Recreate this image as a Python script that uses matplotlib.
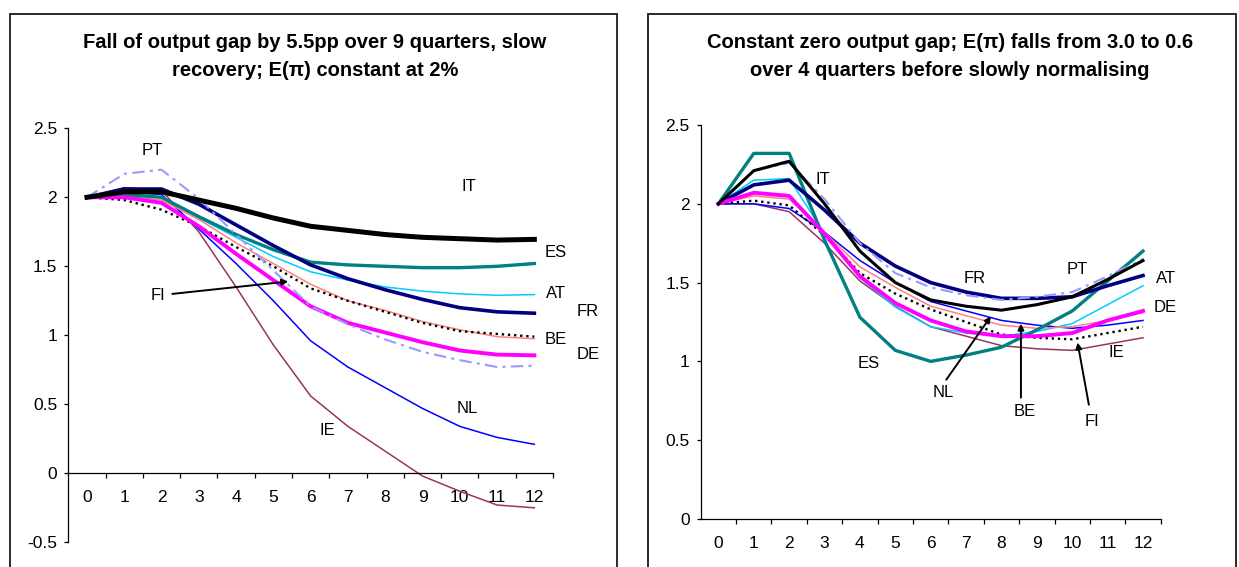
import matplotlib
matplotlib.use("Agg")
import matplotlib.pyplot as plt
from matplotlib.patches import Rectangle
import numpy as np

plt.rcParams['font.family'] = ['Liberation Sans', 'DejaVu Sans']

quarters = list(range(13))
tick_labels = [str(q) for q in quarters]

# Left panel: output gap shock, E(pi) constant
it_gap = [2.00, 2.04, 2.04, 1.98, 1.92, 1.85, 1.79, 1.76, 1.73, 1.71, 1.70, 1.69, 1.695]
es_gap = [2.00, 2.02, 2.00, 1.86, 1.73, 1.62, 1.53, 1.51, 1.50, 1.49, 1.49, 1.50, 1.52]
at_gap = [2.00, 2.02, 2.00, 1.85, 1.71, 1.57, 1.46, 1.40, 1.35, 1.32, 1.30, 1.29, 1.295]
fr_gap = [2.00, 2.06, 2.06, 1.95, 1.80, 1.65, 1.51, 1.41, 1.33, 1.26, 1.20, 1.17, 1.16]
be_gap = [2.00, 2.01, 1.98, 1.84, 1.67, 1.52, 1.37, 1.25, 1.18, 1.10, 1.04, 0.99, 0.975]
fi_gap = [2.00, 1.98, 1.91, 1.79, 1.64, 1.50, 1.34, 1.25, 1.17, 1.09, 1.03, 1.01, 0.99]
de_gap = [2.00, 2.00, 1.96, 1.79, 1.59, 1.40, 1.21, 1.09, 1.02, 0.95, 0.89, 0.86, 0.855]
pt_gap = [2.00, 2.17, 2.20, 1.99, 1.73, 1.47, 1.21, 1.08, 0.97, 0.88, 0.82, 0.77, 0.78]
nl_gap = [2.00, 2.04, 2.02, 1.77, 1.52, 1.25, 0.96, 0.77, 0.62, 0.47, 0.34, 0.26, 0.21]
ie_gap = [2.00, 2.07, 2.05, 1.75, 1.35, 0.93, 0.56, 0.34, 0.16, -0.02, -0.13, -0.23, -0.25]

# Right panel: zero output gap, E(pi) shock
it_exp = [2.00, 2.21, 2.27, 2.00, 1.70, 1.50, 1.39, 1.35, 1.325, 1.36, 1.41, 1.52, 1.64]
es_exp = [2.00, 2.32, 2.32, 1.77, 1.28, 1.07, 1.00, 1.04, 1.09, 1.20, 1.32, 1.51, 1.70]
at_exp = [2.00, 2.15, 2.16, 1.81, 1.53, 1.345, 1.22, 1.18, 1.16, 1.19, 1.24, 1.36, 1.48]
fr_exp = [2.00, 2.12, 2.15, 1.96, 1.75, 1.605, 1.50, 1.44, 1.40, 1.40, 1.41, 1.48, 1.545]
be_exp = [2.00, 2.05, 2.03, 1.82, 1.60, 1.47, 1.35, 1.29, 1.23, 1.21, 1.22, 1.26, 1.31]
fi_exp = [2.00, 2.02, 1.99, 1.80, 1.56, 1.43, 1.33, 1.25, 1.17, 1.15, 1.14, 1.18, 1.22]
de_exp = [2.00, 2.07, 2.05, 1.81, 1.54, 1.37, 1.26, 1.19, 1.16, 1.16, 1.18, 1.26, 1.32]
pt_exp = [2.00, 2.21, 2.26, 2.03, 1.75, 1.56, 1.47, 1.42, 1.39, 1.41, 1.44, 1.54, 1.65]
nl_exp = [2.00, 2.00, 1.97, 1.82, 1.64, 1.50, 1.38, 1.32, 1.26, 1.23, 1.21, 1.23, 1.26]
ie_exp = [2.00, 2.00, 1.95, 1.75, 1.51, 1.35, 1.22, 1.16, 1.10, 1.08, 1.07, 1.11, 1.15]


def style_axes(ax, ymin, ymax):
    ax.set_xlim(-0.5, 12.5)
    ax.set_ylim(ymin, ymax)
    ax.set_yticks(np.arange(ymin, ymax + 0.01, 0.5))
    ax.set_yticklabels([f"{v:g}" for v in np.arange(ymin, ymax + 0.01, 0.5)])
    ax.set_xticks(quarters)
    ax.set_xticklabels(tick_labels)
    ax.set_xticks(np.arange(0.5, 13, 1), minor=True)
    ax.spines['top'].set_visible(False)
    ax.spines['right'].set_visible(False)
    ax.spines['left'].set_linewidth(0.9)
    ax.spines['bottom'].set_linewidth(0.9)
    ax.spines['bottom'].set_position(('data', 0))
    ax.tick_params(axis='x', which='major', length=0, pad=12, labelsize=12.5)
    ax.tick_params(axis='x', which='minor', length=3.5, width=0.9, direction='out')
    ax.tick_params(axis='y', length=3, width=0.9, pad=5, labelsize=12.5)
    ax.patch.set_alpha(0)


def draw_lines(ax, it, es, at, fr, be, fi, de, pt, nl, ie, thick):
    ax.plot(quarters, ie, color='#993366', lw=1.1)
    ax.plot(quarters, nl, color='#0000FF', lw=1.1)
    ax.plot(quarters, at, color='#00CCFF', lw=1.1)
    ax.plot(quarters, be, color='#FF8080', lw=1.1)
    ax.plot(quarters, fi, color='black', lw=1.7, linestyle=(0, (1, 1.6)))
    ax.plot(quarters, es, color='#008080', lw=2.4)
    ax.plot(quarters, fr, color='#000080', lw=2.6)
    ax.plot(quarters, de, color='#FF00FF', lw=2.8)
    ax.plot(quarters, pt, color='#9999FF', lw=1.5, linestyle=(0, (6, 2.5, 1.5, 2.5)))
    ax.plot(quarters, it, color='black', lw=thick)


fig = plt.figure(figsize=(12.39, 5.67), dpi=100)
W, H = 1239, 567

# panel frames
fig.add_artist(Rectangle((10 / W, -0.05), (617 - 10) / W, 1.05 - 14 / H, transform=fig.transFigure,
                         fill=False, ec='#1a1a1a', lw=1.3))
fig.add_artist(Rectangle((648 / W, -0.05), (1236 - 648) / W, 1.05 - 14 / H, transform=fig.transFigure,
                         fill=False, ec='#1a1a1a', lw=1.3))

# titles
title = dict(ha='center', va='center', fontsize=14.5, fontweight='bold')
fig.text(315 / W, 1 - 42 / H, "Fall of output gap by 5.5pp over 9 quarters, slow", **title)
fig.text(315 / W, 1 - 70 / H, "recovery; E(π) constant at 2%", **title)
fig.text(950 / W, 1 - 42 / H, "Constant zero output gap; E(π) falls from 3.0 to 0.6", **title)
fig.text(950 / W, 1 - 70 / H, "over 4 quarters before slowly normalising", **title)

# left chart
ax1 = fig.add_axes([68.3 / W, 1 - 542.3 / H, (553 - 68.3) / W, (542.3 - 128.3) / H])
style_axes(ax1, -0.5, 2.5)
draw_lines(ax1, it_gap, es_gap, at_gap, fr_gap, be_gap, fi_gap, de_gap, pt_gap, nl_gap, ie_gap, 3.6)
lab = dict(ha='center', va='center', fontsize=12)
ax1.text(1.75, 2.34, 'PT', **lab)
ax1.text(10.25, 2.075, 'IT', **lab)
ax1.text(12.58, 1.60, 'ES', **lab)
ax1.text(12.58, 1.30, 'AT', **lab)
ax1.text(13.44, 1.17, 'FR', **lab)
ax1.text(12.58, 0.97, 'BE', **lab)
ax1.text(13.44, 0.86, 'DE', **lab)
ax1.text(10.2, 0.47, 'NL', **lab)
ax1.text(6.44, 0.31, 'IE', **lab)
ax1.text(1.91, 1.29, 'FI', **lab)
ax1.annotate('', xy=(5.4, 1.39), xytext=(2.29, 1.30),
             arrowprops=dict(arrowstyle='-|>', color='black', lw=1.4, mutation_scale=9, shrinkA=0, shrinkB=0))

# right chart
ax2 = fig.add_axes([700.7 / W, 1 - 519 / H, (1160.7 - 700.7) / W, (519 - 125) / H])
style_axes(ax2, 0, 2.5)
draw_lines(ax2, it_exp, es_exp, at_exp, fr_exp, be_exp, fi_exp, de_exp, pt_exp, nl_exp, ie_exp, 2.2)
ax2.text(2.95, 2.154, 'IT', **lab)
ax2.text(7.24, 1.524, 'FR', **lab)
ax2.text(10.15, 1.583, 'PT', **lab)
ax2.text(12.64, 1.524, 'AT', **lab)
ax2.text(12.64, 1.343, 'DE', **lab)
ax2.text(11.25, 1.054, 'IE', **lab)
ax2.text(4.25, 0.986, 'ES', **lab)
ax2.text(6.35, 0.804, 'NL', **lab)
ax2.text(8.66, 0.68, 'BE', **lab)
ax2.text(10.56, 0.62, 'FI', **lab)
arrow = dict(arrowstyle='-|>', color='black', lw=1.4, mutation_scale=9, shrinkA=0, shrinkB=0)
ax2.annotate('', xy=(7.70, 1.286), xytext=(6.44, 0.884), arrowprops=arrow)
ax2.annotate('', xy=(8.55, 1.24), xytext=(8.55, 0.77), arrowprops=arrow)
ax2.annotate('', xy=(10.15, 1.12), xytext=(10.47, 0.725), arrowprops=arrow)

fig.savefig('out.png', dpi=100)
